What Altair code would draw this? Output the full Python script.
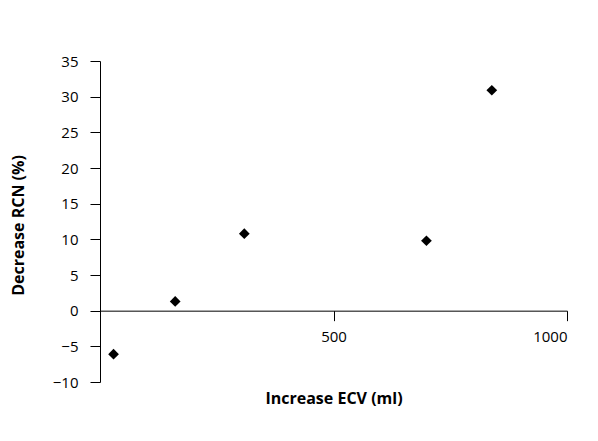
import altair as alt
import pandas as pd

ecv_increase = [29, 161, 309, 699, 839]
rcn_decrease = [-6.1, 1.3, 10.8, 9.8, 30.9]

df = pd.DataFrame({"ecv": ecv_increase, "rcn": rcn_decrease})

W, H = 467, 321
y_min, y_max = -10, 35
x_axis_offset = -H * (0 - y_min) / (y_max - y_min)

chart = alt.Chart(df).mark_point(
    shape="diamond", filled=True, color="black", size=115, opacity=1
).encode(
    x=alt.X("ecv:Q",
            scale=alt.Scale(domain=[0, 1000], nice=False, zero=False),
            axis=alt.Axis(values=[500, 1000], format="d", title="Increase ECV (ml)",
                          offset=x_axis_offset, grid=False, tickSize=10,
                          labelPadding=9, labelFontSize=15,
                          titleFontSize=16, titleFontWeight="bold",
                          titleBaseline="alphabetic", titleY=93, titleX=W / 2,
                          labelColor="black", titleColor="black",
                          domainColor="black", tickColor="black")),
    y=alt.Y("rcn:Q",
            scale=alt.Scale(domain=[y_min, y_max], nice=False, zero=False),
            axis=alt.Axis(values=list(range(-10, 40, 5)), format="d",
                          title="Decrease RCN (%)",
                          grid=False, tickSize=10, labelPadding=12,
                          labelFontSize=15, titleFontSize=16, titleFontWeight="bold",
                          titleX=-74, titleY=164,
                          labelColor="black", titleColor="black",
                          domainColor="black", tickColor="black")),
).properties(
    width=W, height=H,
    autosize=alt.AutoSizeParams(type="none"),
    padding={"left": 92, "top": 53, "right": 20, "bottom": 40},
).configure_view(
    stroke=None
).configure_axis(
    labelFont="Open Sans", titleFont="Open Sans", domainWidth=1, tickWidth=1
)

chart.save("out.html", embed_options={"renderer": "svg", "actions": False})
